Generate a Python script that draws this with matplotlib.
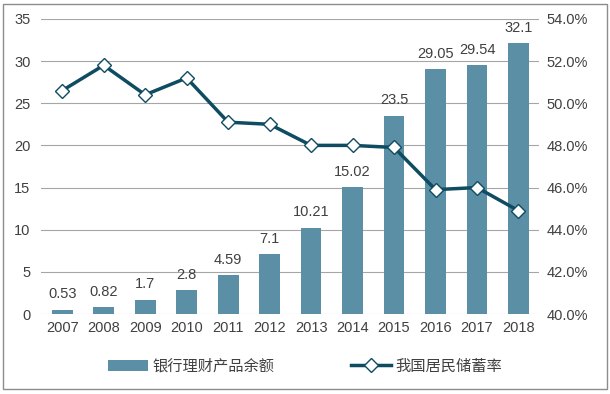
import numpy as np
import matplotlib.pyplot as plt
from matplotlib.patches import Rectangle

plt.rcParams['font.family'] = ['Liberation Sans', 'Noto Sans CJK SC', 'DejaVu Sans']

years = ['2007', '2008', '2009', '2010', '2011', '2012', '2013', '2014', '2015', '2016', '2017', '2018']
balance = [0.53, 0.82, 1.7, 2.8, 4.59, 7.1, 10.21, 15.02, 23.5, 29.05, 29.54, 32.1]
saving_rate = [50.6, 51.8, 50.4, 51.2, 49.1, 49.0, 48.0, 48.0, 47.9, 45.9, 46.0, 44.9]

bar_color = '#5b8fa5'
line_color = '#0f4c62'
text_color = '#404040'

fig = plt.figure(figsize=(6.1, 3.94), dpi=100)
ax = fig.add_axes([0.068, 0.203, 0.816, 0.749])
x = np.arange(len(years))

ax.set_axisbelow(True)
ax.yaxis.grid(True, color='#a6a6a6', linewidth=0.8)
bars = ax.bar(x, balance, width=0.5, color=bar_color, label='银行理财产品余额')
for xi, v in zip(x, balance):
    ax.text(xi, v + 1.0, f'{v:g}', ha='center', va='bottom', fontsize=10.5, color=text_color)

ax.set_ylim(0, 35)
ax.set_yticks(range(0, 36, 5))
ax.set_xlim(-0.5, len(years) - 0.5)
ax.set_xticks(x)
ax.set_xticklabels(years)
for s in ax.spines.values():
    s.set_visible(False)
ax.tick_params(axis='both', length=0, labelsize=10.5, labelcolor=text_color)
ax.tick_params(axis='y', pad=8)
ax.tick_params(axis='x', pad=5)

ax2 = ax.twinx()
ax2.plot(x, saving_rate, color=line_color, linewidth=2.5, marker='D', markersize=7,
         markerfacecolor='white', markeredgecolor=line_color, markeredgewidth=1,
         label='我国居民储蓄率')
ax2.set_ylim(40, 54)
ax2.set_yticks(np.arange(40, 54.1, 2))
ax2.set_yticklabels([f'{v:.1f}%' for v in np.arange(40, 54.1, 2)])
for s in ax2.spines.values():
    s.set_visible(False)
ax2.tick_params(axis='y', length=0, labelsize=10.5, labelcolor=text_color, pad=5)

h1, l1 = ax.get_legend_handles_labels()
h2, l2 = ax2.get_legend_handles_labels()
fig.legend(h1 + h2, l1 + l2, loc='center', bbox_to_anchor=(0.5, 0.07), ncol=2,
           frameon=False, fontsize=11, columnspacing=5, handlelength=2.6,
           handletextpad=0.3, labelcolor=text_color)

fig.patches.append(Rectangle((0.005, 0.012), 0.99, 0.978, transform=fig.transFigure,
                             fill=False, edgecolor='#8c8c8c', linewidth=1))

fig.savefig('out.png', dpi=100)
